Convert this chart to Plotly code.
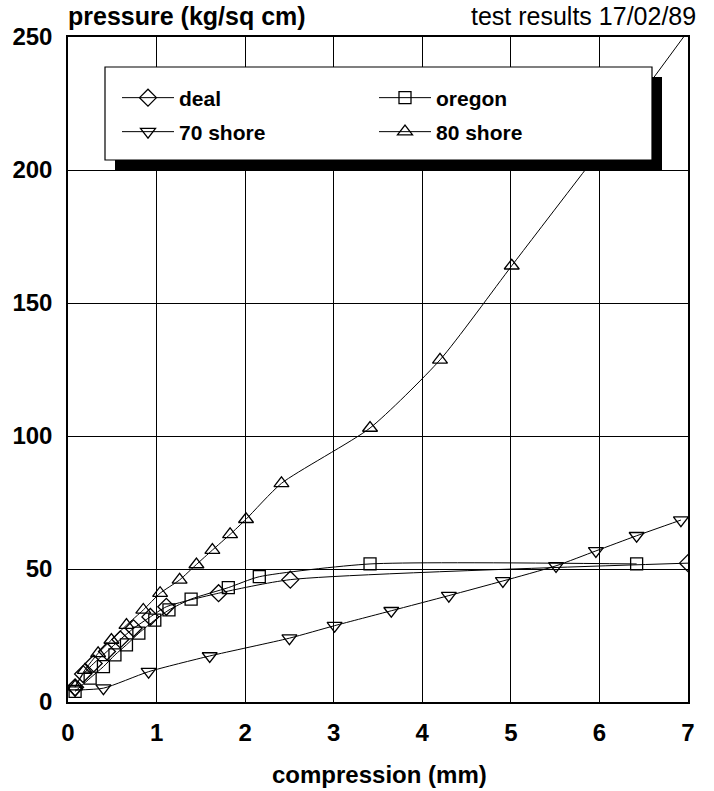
import plotly.graph_objects as go

# ---- data ----
deal_x = [0.08, 0.17, 0.29, 0.44, 0.59, 0.74, 0.93, 1.11, 1.70, 2.51, 7.00]
deal_y = [5.5, 10.5, 14.5, 19.0, 23.5, 27.7, 32.0, 35.8, 40.9, 46.0, 52.2]

oregon_x = [0.08, 0.25, 0.40, 0.53, 0.66, 0.80, 0.98, 1.14, 1.39, 1.81, 2.16, 3.41, 6.42]
oregon_y = [4.0, 9.0, 13.3, 17.7, 21.5, 25.9, 30.8, 34.6, 38.7, 43.0, 47.1, 51.9, 51.9]

shore70_x = [0.08, 0.40, 0.91, 1.60, 2.50, 3.01, 3.65, 4.30, 4.91, 5.51, 5.96, 6.42, 6.92]
shore70_y = [4.5, 5.2, 11.4, 17.3, 24.0, 28.7, 34.3, 40.0, 45.5, 51.2, 56.8, 62.5, 68.4]

shore80_x = [0.08, 0.19, 0.34, 0.49, 0.66, 0.85, 1.04, 1.26, 1.45, 1.63, 1.83, 2.01,
             2.41, 3.41, 4.20, 5.01, 6.00]
shore80_y = [5.8, 12.0, 18.3, 23.3, 28.9, 34.6, 40.9, 45.9, 51.7, 57.1, 63.0, 68.7,
             82.2, 103.0, 128.6, 164.0, 207.0]
# continuation of the 80 shore curve up to the top border (no marker)
shore80_end_x = [6.00, 6.95]
shore80_end_y = [207.0, 250.0]

x_ticks = [0, 1, 2, 3, 4, 5, 6, 7]
y_ticks = [0, 50, 100, 150, 200, 250]

FONT = "Liberation Sans"
W, H = 714, 791
L, R, T, B = 68, 26, 37, 89
PW, PH = W - L - R, H - T - B


def px2paper(px, py):
    return (px - L) / PW, (H - B - py) / PH


fig = go.Figure()

line_style = dict(color="black", width=1, shape="spline", smoothing=0.6)
series = [
    ("deal", deal_x, deal_y, "diamond-open", 13, "legend"),
    ("oregon", oregon_x, oregon_y, "square-open", 12, "legend"),
    ("70 shore", shore70_x, shore70_y, "triangle-down-open", 13, "legend2"),
    ("80 shore", shore80_x, shore80_y, "triangle-up-open", 13, "legend2"),
]
for name, xs, ys, sym, size, lg in series:
    fig.add_trace(go.Scatter(
        x=xs, y=ys, name=name, mode="lines+markers",
        line=line_style,
        marker=dict(symbol=sym, size=size, color="black", line=dict(width=1.3, color="black")),
        legend=lg,
    ))
fig.add_trace(go.Scatter(
    x=shore80_end_x, y=shore80_end_y, mode="lines", showlegend=False,
    line=dict(color="black", width=1),
))

# legend box with drop shadow (drawn as shapes, covering the plot)
sx0, sy1 = px2paper(115, 77)
sx1, sy0 = px2paper(662, 171)
bx0, by1 = px2paper(105, 67)
bx1, by0 = px2paper(652, 160)
fig.add_shape(type="rect", xref="paper", yref="paper", x0=sx0, x1=sx1, y0=sy0, y1=sy1,
              fillcolor="black", line=dict(width=0), layer="above")
fig.add_shape(type="rect", xref="paper", yref="paper", x0=bx0, x1=bx1, y0=by0, y1=by1,
              fillcolor="white", line=dict(width=1.2, color="black"), layer="above")

lx, ly1 = px2paper(117, 98)
_, ly2 = px2paper(117, 132)
legend_common = dict(
    orientation="h", xanchor="left", yanchor="middle",
    bgcolor="rgba(0,0,0,0)", borderwidth=0,
    font=dict(family=FONT, size=21, color="black", weight="bold"),
    entrywidth=190, itemwidth=52, traceorder="normal",
)

fig.update_layout(
    width=W, height=H,
    margin=dict(l=L, r=R, t=T, b=B, pad=0),
    paper_bgcolor="white", plot_bgcolor="white",
    font=dict(family=FONT, color="black"),
    legend=dict(x=lx, y=ly1, **legend_common),
    legend2=dict(x=lx, y=ly2, **legend_common),
    xaxis=dict(
        range=[0, 7], tickvals=x_ticks, ticktext=[str(v) for v in x_ticks],
        showgrid=True, gridcolor="black", gridwidth=1,
        showline=True, linecolor="black", linewidth=1.5, mirror=True,
        zeroline=False, ticks="", ticklabelstandoff=8,
        tickfont=dict(family=FONT, size=24, color="black", weight="bold"),
    ),
    yaxis=dict(
        range=[0, 250], tickvals=y_ticks, ticktext=[str(v) for v in y_ticks],
        showgrid=True, gridcolor="black", gridwidth=1,
        showline=True, linecolor="black", linewidth=1.5, mirror=True,
        zeroline=False, ticks="", ticklabelstandoff=9,
        tickfont=dict(family=FONT, size=24, color="black", weight="bold"),
    ),
    annotations=[
        dict(text="pressure (kg/sq cm)", xref="paper", yref="paper",
             x=px2paper(66, 0)[0], y=px2paper(0, 16)[1], xanchor="left", yanchor="middle",
             showarrow=False, font=dict(family=FONT, size=25, color="black", weight="bold")),
        dict(text="test results 17/02/89", xref="paper", yref="paper",
             x=px2paper(698, 0)[0], y=px2paper(0, 16)[1], xanchor="right", yanchor="middle",
             showarrow=False, font=dict(family=FONT, size=25, color="black")),
        dict(text="compression (mm)", xref="paper", yref="paper",
             x=px2paper(380, 0)[0], y=px2paper(0, 774)[1], xanchor="center", yanchor="middle",
             showarrow=False, font=dict(family=FONT, size=24, color="black", weight="bold")),
    ],
)

fig.write_html("out.html")
